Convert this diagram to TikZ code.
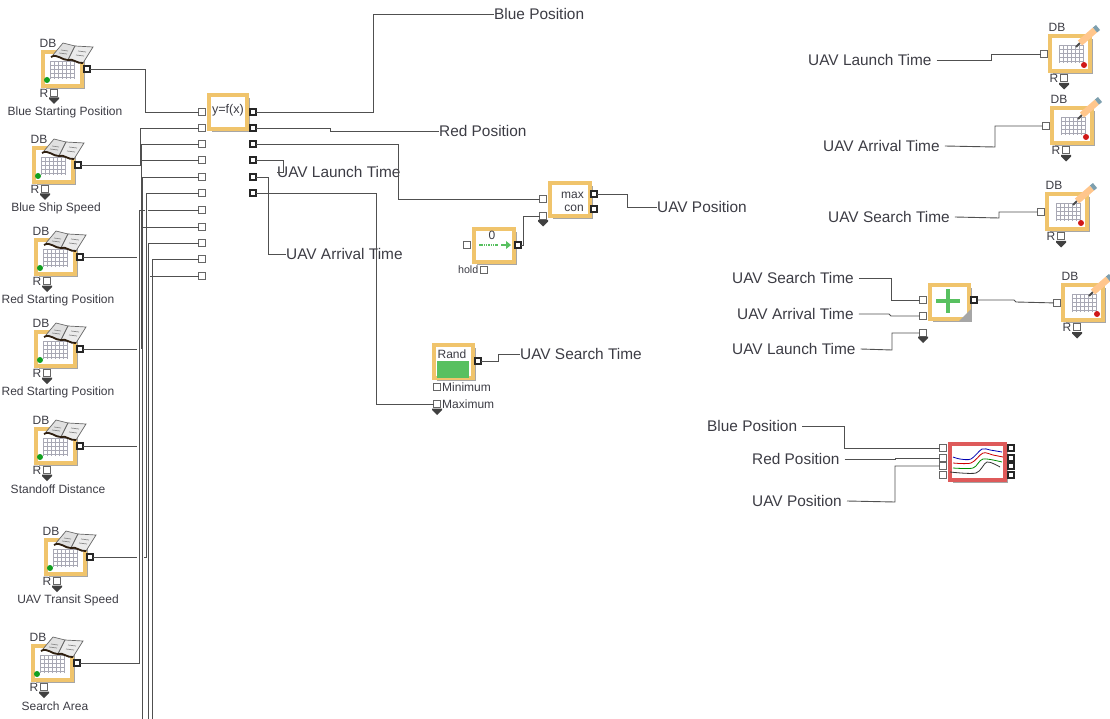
\documentclass[tikz,border=0pt]{standalone}
\usepackage{fontspec}
\setmainfont{Liberation Sans}
\usetikzlibrary{shadows}
\definecolor{framegold}{HTML}{F0C46C}
\definecolor{frameplot}{HTML}{DE5A5A}
\definecolor{wiregray}{HTML}{505050}
\definecolor{inkgray}{HTML}{3C3C44}
\definecolor{gridgray}{HTML}{A8A8B4}
\definecolor{dotgreen}{HTML}{12A020}
\definecolor{dotred}{HTML}{D01818}
\definecolor{plusgreen}{HTML}{58C060}
\tikzset{
  wire/.style={draw=wiregray,line width=.9pt},
  inport/.style={draw=black!60,fill=white,line width=.9pt,minimum size=6.5pt,inner sep=0pt,outer sep=0pt},
  outport/.style={draw=black!85,fill=white,line width=2pt,minimum size=6pt,inner sep=0pt,outer sep=0pt},
  openport/.style={draw=black!60,fill=white,line width=.9pt,minimum size=7.5pt,inner sep=0pt,outer sep=0pt},
  blockframe/.style={draw=framegold,line width=3.6pt,fill=white,anchor=north west,inner sep=0pt,outer sep=0pt,
    drop shadow={shadow xshift=3pt,shadow yshift=-3pt,fill=black!35,opacity=1}},
  varlabel/.style={anchor=west,inner sep=0pt,text=inkgray,font=\fontsize{15.4}{18}\selectfont},
  smalllabel/.style={inner sep=0pt,text=inkgray,font=\fontsize{12}{14}\selectfont},
  dropmark/.pic={\fill[black!75] (-5,0) -- (5,0) -- (5,1.5) -- (0,6.5) -- (-5,1.5) --cycle;},
  pics/dbread/.style={code={
    \node[blockframe,minimum width=39.4pt,minimum height=34.4pt] (-frame) at (1.8,1.8) {};
    \draw[gridgray,step=4pt,line width=.6pt,shift={(9,11)}] (0,0) grid (24,18);
    \fill[dotgreen] (6,30) circle (3);
    \fill[black!12,draw=black!60,line width=.7pt] (12,5) -- (22,-7) -- (34,-4) -- (27,10) --cycle;
    \fill[black!8,draw=black!60,line width=.7pt] (34,-4) -- (52,-3) -- (42,13) -- (27,10) --cycle;
    \draw[black!45,line width=.7pt] (20,0) -- (27,1) (37,1) -- (45,2) (18,3) -- (26,4) (35,5) -- (43,6);
    \draw[black!75!brown,line width=1.8pt] (10,7) .. controls (16,3) and (22,11) .. (27,10) .. controls (32,8) and (36,14) .. (42,13);
    \node[outport] (-out) at (46,19) {};
    \node[smalllabel] (-db) at (7,-7) {DB};
    \node[smalllabel] (-r) at (3,43) {R};
    \node[openport] (-hold) at (13,43) {};
    \pic at (13,47.5) {dropmark};
    \node[smalllabel] (-name) at (24,62) {#1};
  }},
  pics/dbwrite/.style={code={
    \node[blockframe,minimum width=40.4pt,minimum height=35.4pt] (-frame) at (1.8,1.8) {};
    \draw[gridgray,step=4pt,line width=.6pt,shift={(11,11)}] (0,0) grid (24,18);
    \fill[dotred] (36,31) circle (3);
    \draw[black!70,line width=1.8pt] (28,13) -- (32,9);
    \draw[orange!45!white,line width=6.5pt] (32,9) -- (47,-4);
    \draw[cyan!30!gray,line width=6.5pt] (47,-4) -- (50,-6.5);
    \node[inport] (-in) at (-4,20) {};
    \node[smalllabel] (-db) at (9,-7) {DB};
    \node[smalllabel] (-r) at (6,44) {R};
    \node[openport] (-hold) at (16,44) {};
    \pic at (16,49) {dropmark};
  }}
}
\begin{document}
\begin{tikzpicture}[x=1pt,y=-1pt]
\useasboundingbox (0,0) rectangle (1110,719);

% Bloecke
\pic (bluestart) at (41,50) {dbread={Blue Starting Position}};
\pic (blueship) at (32,146) {dbread={Blue Ship Speed}};
\pic (redstartA) at (34,238) {dbread={Red Starting Position}};
\pic (redstartB) at (34,330) {dbread={Red Starting Position}};
\pic (standoff) at (34,427) {dbread={Standoff Distance}};
\pic (uavspeed) at (44,538) {dbread={UAV Transit Speed}};
\pic (searcharea) at (31,644) {dbread={Search Area}};

\node[blockframe,minimum width=38.4pt,minimum height=34.4pt] (func) at (208.8,94.8) {};
\node[inner sep=0pt,text=inkgray,font=\fontsize{12.6}{14}\selectfont] (functext) at (228,110) {y=f(x)};

\node[inport] (in1) at (202,112) {};
\node[inport] (in2) at (202,128) {};
\node[inport] (in3) at (202,144) {};
\node[inport] (in4) at (202,160) {};
\node[inport] (in5) at (202,177) {};
\node[inport] (in6) at (202,193) {};
\node[inport] (in7) at (202,210) {};
\node[inport] (in8) at (202,227) {};
\node[inport] (in9) at (202,243) {};
\node[inport] (in10) at (202,259) {};
\node[inport] (in11) at (202,276) {};

\node[outport] (out1) at (253,112) {};
\node[outport] (out2) at (253,128) {};
\node[outport] (out3) at (253,144) {};
\node[outport] (out4) at (253,160) {};
\node[outport] (out5) at (253,177) {};
\node[outport] (out6) at (253,193) {};

\node[blockframe,minimum width=40.4pt,minimum height=33.4pt] (maxcon) at (549.8,182.8) {};
\node[smalllabel,anchor=east] (maxtext) at (584,195) {max};
\node[smalllabel,anchor=east] (context) at (584,208) {con};
\node[inport] (maxin1) at (543,199) {};
\node[inport] (maxin2) at (543,216) {};
\node[outport] (maxout1) at (594,194) {};
\node[outport] (maxout2) at (594,209) {};
\pic at (543,220) {dropmark};

\node[blockframe,minimum width=40.4pt,minimum height=33.4pt] (holdblock) at (473.8,228.8) {};
\node[smalllabel] (holdzero) at (492,235) {0};
\draw[plusgreen,line width=1.8pt,dash pattern=on 1.5pt off .8pt] (479,245) -- (498,245);
\draw[plusgreen,line width=2pt] (501,245) -- (507,245);
\fill[plusgreen] (506,241) -- (511,245) -- (506,249) --cycle;
\node[openport] (holdin) at (467,245) {};
\node[outport] (holdout) at (518,245) {};
\node[smalllabel,anchor=east,font=\fontsize{10.7}{12}\selectfont] (holdtext) at (478.5,270) {hold};
\node[openport,minimum size=6.5pt] (holdport) at (484,270) {};

\node[blockframe,minimum width=39.4pt,minimum height=33.4pt] (randblock) at (433.8,344.8) {};
\fill[plusgreen] (437,361) rectangle (469,378);
\node[smalllabel] (randtext) at (452,354) {Rand};
\node[outport] (randout) at (478,361) {};
\node[inport] (randmin) at (437,387) {};
\node[inport] (randmax) at (437,404) {};
\node[smalllabel,anchor=west] (mintext) at (442,387) {Minimum};
\node[smalllabel,anchor=west] (maxitext) at (442,404) {Maximum};
\pic at (437,408.5) {dropmark};

\pic (logA) at (1048,34) {dbwrite};
\pic (logB) at (1050,106) {dbwrite};
\pic (logC) at (1045,192) {dbwrite};
\pic (logD) at (1061,283) {dbwrite};

\node[blockframe,minimum width=39.4pt,minimum height=34.4pt] (addblock) at (929.8,284.8) {};
\draw[plusgreen,line width=4pt] (948,289) -- (948,313) (936,301) -- (960,301);
\fill[black!35] (971,309) -- (971,321) -- (959,321) --cycle;
\node[inport] (addin1) at (923,300) {};
\node[inport] (addin2) at (923,316) {};
\node[inport] (addin3) at (923,333) {};
\node[outport] (addout) at (974,300) {};
\pic at (923,336.5) {dropmark};

\node[blockframe,draw=frameplot,minimum width=55.4pt,minimum height=36.4pt] (plotblock) at (949.8,443.8) {};
\draw[blue!70!black,line width=.8pt] plot [smooth] coordinates {(953,457) (960,459) (971,459) (982,449) (990,450) (1002,452)};
\draw[red!80!black,line width=.8pt] plot [smooth] coordinates {(953,463) (971,463) (983,453) (993,455) (1003,457)};
\draw[green!55!black,line width=.8pt] plot [smooth] coordinates {(953,468) (973,468) (983,459) (1002,462)};
\draw[black!80,line width=.8pt] plot [smooth] coordinates {(950,472) (976,473) (987,462) (1000,467)};
\node[inport] (plotin1) at (943,448) {};
\node[inport] (plotin2) at (943,458) {};
\node[inport] (plotin3) at (943,466) {};
\node[openport,minimum size=6.5pt] (plotin4) at (943,475) {};
\node[outport] (plotout1) at (1011,448) {};
\node[outport] (plotout2) at (1011,458) {};
\node[outport] (plotout3) at (1011,466) {};
\node[outport] (plotout4) at (1011,475) {};

% Beschriftung
\node[varlabel] (bluepos) at (494,14) {Blue Position};
\node[varlabel] (redpos) at (439,131) {Red Position};
\node[varlabel] (launchtime) at (277,172) {UAV Launch Time};
\node[varlabel] (arrivaltime) at (286,254) {UAV Arrival Time};
\node[varlabel] (uavpos) at (657,207) {UAV Position};
\node[varlabel] (searchtime) at (520,354) {UAV Search Time};

\node[varlabel] (launchA) at (808,60) {UAV Launch Time};
\node[varlabel] (arrivalA) at (823,146) {UAV Arrival Time};
\node[varlabel] (searchA) at (828,217) {UAV Search Time};
\node[varlabel] (searchB) at (732,278) {UAV Search Time};
\node[varlabel] (arrivalB) at (737,314) {UAV Arrival Time};
\node[varlabel] (launchB) at (732,349) {UAV Launch Time};
\node[varlabel] (blueposB) at (707,426) {Blue Position};
\node[varlabel] (redposB) at (752,459) {Red Position};
\node[varlabel] (uavposB) at (752,501) {UAV Position};

% Enden
\coordinate (jmp3) at (141,257);
\coordinate (jmp4) at (141.5,349);
\coordinate (jmp5) at (142.5,446);
\coordinate (jmp6) at (146,557);
\coordinate (jmp7a) at (145,210);
\coordinate (jmp7b) at (148,210);
\coordinate (off8) at (142.5,719);
\coordinate (off9) at (148.5,719);
\coordinate (off10) at (152,719);
\coordinate (off11) at (150,276);

% Verbindungen
\draw[wire] (bluestart-out) -- ++(58,0) |- (in1);
\draw[wire] (blueship-out) -- ++(62,0) |- (in2);
\draw[wire] (redstartA-out) -- ++(57,0);
\draw[wire] (in3) -| (jmp3);
\draw[wire] (redstartB-out) -- ++(57,0);
\draw[wire] (in4) -| (jmp4);
\draw[wire] (standoff-out) -- ++(57,0);
\draw[wire] (in5) -| (jmp5);
\draw[wire] (uavspeed-out) -- ++(47,0);
\draw[wire] (in6) -| (jmp6) -- ++(-2,0);
\draw[wire] (searcharea-out) -- ++(62,0) |- (jmp7a);
\draw[wire] (jmp7b) -- (in7);
\draw[wire] (in8) -| (off8);
\draw[wire] (in9) -| (off9);
\draw[wire] (in10) -| (off10);
\draw[wire] (off11) -- (in11);

\draw[wire] (out1) -- ++(120,0) |- (bluepos);
\draw[wire] (out2) -- ++(77,0) -- ++(0,3) -- (redpos);
\draw[wire] (out3) -- ++(145,0) |- (maxin1);
\draw[wire] (out4) -- ++(30,0) -- ++(0,12) -- (launchtime.west);
\draw[wire] (out5) -- ++(15,0) |- (arrivaltime);
\draw[wire] (out6) -- ++(123,0) |- (randmax);

\draw[wire] (holdout) -- ++(5,0) |- (maxin2);
\draw[wire] (maxout1) -- ++(33,0) |- (uavpos);
\draw[wire] (randout) -- ++(20,0) |- (searchtime);

\draw[wire] ([xshift=5pt]launchA.east) -- (991,60) |- (logA-in);
\draw[wire] ([xshift=5pt]arrivalA.east) -- (995,147) |- (logB-in);
\draw[wire] ([xshift=5pt]searchA.east) -- (999,218) |- (logC-in);
\draw[wire] ([xshift=5pt]searchB.east) -- (891,278) |- (addin1);
\draw[wire] ([xshift=5pt]arrivalB.east) -- (889,314) -- (891,316) -- (addin2);
\draw[wire] ([xshift=5pt]launchB.east) -- (892,350) |- (addin3);
\draw[wire] (addout) -- (1014,300) -- (1016,302) -- (logD-in);

\draw[wire] ([xshift=5pt]blueposB.east) -- (844,426) |- (plotin1);
\draw[wire] ([xshift=5pt]redposB.east) -- (895,459) -- (895,458) -- (plotin2);
\draw[wire] ([xshift=5pt]uavposB.east) -- (895,502) |- (plotin3);
\end{tikzpicture}
\end{document}
